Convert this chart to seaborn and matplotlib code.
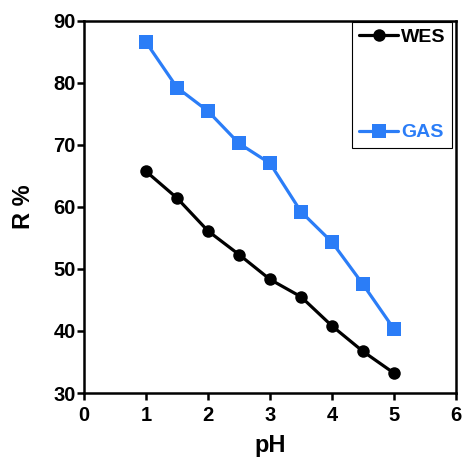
import pandas as pd
import matplotlib
matplotlib.use("Agg")
import matplotlib.pyplot as plt
import seaborn as sns

# Values
ph = [1, 1.5, 2, 2.5, 3, 3.5, 4, 4.5, 5]
wes = [65.7, 61.4, 56.1, 52.3, 48.3, 45.5, 40.8, 36.7, 33.2]
gas = [86.5, 79.2, 75.4, 70.2, 67.0, 59.2, 54.3, 47.5, 40.3]
x_ticks = [0, 1, 2, 3, 4, 5, 6]
y_ticks = [30, 40, 50, 60, 70, 80, 90]

wes_color = "black"
gas_color = "#2B7DF7"

sns.set_style("ticks")
plt.rcParams['font.family'] = ['Liberation Sans', 'DejaVu Sans']
plt.rcParams['font.weight'] = 'bold'
plt.rcParams['text.color'] = 'black'
plt.rcParams['axes.labelcolor'] = 'black'
plt.rcParams['xtick.color'] = 'black'
plt.rcParams['ytick.color'] = 'black'

df_wes = pd.DataFrame({'pH': ph, 'R': wes})
df_gas = pd.DataFrame({'pH': ph, 'R': gas})

fig = plt.figure(figsize=(4.62, 4.57), dpi=100)
ax = fig.add_axes([0.182, 0.140, 0.805, 0.815])

sns.lineplot(data=df_wes, x='pH', y='R', ax=ax, color=wes_color, marker='o',
             markersize=9, linewidth=2.3, markeredgewidth=0, label='WES')
sns.lineplot(data=df_gas, x='pH', y='R', ax=ax, color=gas_color, marker='s',
             markersize=10.5, linewidth=2.3, markeredgewidth=0, label='GAS')

ax.set_xlim(0, 6)
ax.set_ylim(30, 90)
ax.set_xticks(x_ticks)
ax.set_yticks(y_ticks)
ax.tick_params(axis='both', direction='out', length=5, width=1.8,
               labelsize=14.5, colors='black')
ax.tick_params(axis='x', pad=4)
ax.tick_params(axis='y', pad=1)
for lbl in ax.get_xticklabels() + ax.get_yticklabels():
    lbl.set_fontweight('bold')
for side in ['left', 'bottom', 'top', 'right']:
    ax.spines[side].set_visible(True)
    ax.spines[side].set_linewidth(1.8)
    ax.spines[side].set_color('black')

ax.set_xlabel("pH", fontsize=17, fontweight='bold', labelpad=7)
ax.set_ylabel("R %", fontsize=17, fontweight='bold', labelpad=13)

leg = ax.legend(loc='upper right', bbox_to_anchor=(0.99, 0.997),
                borderaxespad=0, fancybox=False, edgecolor='black',
                framealpha=1, labelspacing=4.0,
                handlelength=2.0, handletextpad=0.15, borderpad=0.35,
                labelcolor=[wes_color, gas_color],
                prop={'weight': 'bold', 'size': 14})
leg.get_frame().set_linewidth(0.8)

fig.savefig("out.png", dpi=100)
